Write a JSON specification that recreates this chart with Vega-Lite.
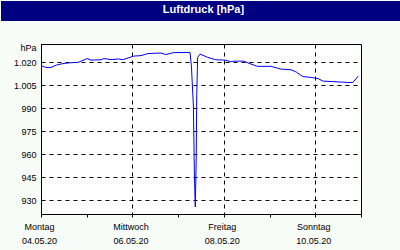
{
  "$schema": "https://vega.github.io/schema/vega-lite/v6.json",
  "background": "#f8fcf8",
  "padding": 0,
  "spacing": 20,
  "config": {"view": {"stroke": null}},
  "vconcat": [
    {
      "width": 360,
      "height": 20,
      "view": {"fill": "#000080", "stroke": null},
      "data": {"values": [{"label": "Luftdruck [hPa]", "v": 0}]},
      "mark": {"type": "text", "color": "white", "font": "Liberation Sans", "fontSize": 11, "fontWeight": "bold", "baseline": "middle", "dx": -17.5, "dy": -1.5},
      "encoding": {
        "text": {"field": "label"},
        "y": {
          "field": "v",
          "type": "quantitative",
          "scale": {"domain": [-1, 1], "nice": false, "zero": false},
          "axis": {
            "title": null,
            "values": [0.9, 0.8, 0.7, 0.6, 0.5, 0.4, 0.3, 0.2, 0.1, 0, -0.1, -0.2, -0.3, -0.4, -0.5, -0.6, -0.7, -0.8, -0.9],
            "labels": false,
            "ticks": true,
            "tickSize": 39,
            "tickWidth": 2,
            "tickCap": "square",
            "tickColor": "#000080",
            "translate": 0,
            "grid": false,
            "domain": false,
            "minExtent": 40,
            "maxExtent": 40
          }
        }
      }
    },
    {
      "width": 320,
      "height": 170,
      "view": {"fill": "white", "stroke": "black", "strokeWidth": 1},
      "data": {"values": [
        {"t": "2020-05-04T00:00", "p": 1018.0},
        {"t": "2020-05-04T02:30", "p": 1016.7},
        {"t": "2020-05-04T05:15", "p": 1016.7},
        {"t": "2020-05-04T08:00", "p": 1018.2},
        {"t": "2020-05-04T11:30", "p": 1019.2},
        {"t": "2020-05-04T14:45", "p": 1019.7},
        {"t": "2020-05-04T19:30", "p": 1020.0},
        {"t": "2020-05-04T21:00", "p": 1020.8},
        {"t": "2020-05-05T00:15", "p": 1022.5},
        {"t": "2020-05-05T02:15", "p": 1021.5},
        {"t": "2020-05-05T07:30", "p": 1021.7},
        {"t": "2020-05-05T09:00", "p": 1022.5},
        {"t": "2020-05-05T12:45", "p": 1021.8},
        {"t": "2020-05-05T16:30", "p": 1022.2},
        {"t": "2020-05-05T19:00", "p": 1021.8},
        {"t": "2020-05-05T22:15", "p": 1023.1},
        {"t": "2020-05-06T00:45", "p": 1024.1},
        {"t": "2020-05-06T04:30", "p": 1024.4},
        {"t": "2020-05-06T08:15", "p": 1025.8},
        {"t": "2020-05-06T15:00", "p": 1026.1},
        {"t": "2020-05-06T17:30", "p": 1025.1},
        {"t": "2020-05-06T21:45", "p": 1026.4},
        {"t": "2020-05-07T06:15", "p": 1026.4},
        {"t": "2020-05-07T07:00", "p": 1016.9},
        {"t": "2020-05-07T08:00", "p": 991.6},
        {"t": "2020-05-07T08:30", "p": 949.1},
        {"t": "2020-05-07T09:00", "p": 925.6},
        {"t": "2020-05-07T09:30", "p": 958.1},
        {"t": "2020-05-07T09:45", "p": 998.2},
        {"t": "2020-05-07T10:15", "p": 1023.3},
        {"t": "2020-05-07T11:30", "p": 1025.4},
        {"t": "2020-05-07T15:30", "p": 1023.3},
        {"t": "2020-05-07T19:45", "p": 1021.7},
        {"t": "2020-05-08T00:30", "p": 1021.5},
        {"t": "2020-05-08T03:45", "p": 1020.4},
        {"t": "2020-05-08T05:15", "p": 1020.8},
        {"t": "2020-05-08T10:30", "p": 1020.8},
        {"t": "2020-05-08T14:15", "p": 1018.9},
        {"t": "2020-05-08T17:45", "p": 1017.4},
        {"t": "2020-05-09T00:45", "p": 1017.4},
        {"t": "2020-05-09T06:00", "p": 1015.6},
        {"t": "2020-05-09T11:15", "p": 1015.2},
        {"t": "2020-05-09T14:00", "p": 1013.7},
        {"t": "2020-05-09T17:30", "p": 1010.7},
        {"t": "2020-05-09T21:45", "p": 1010.2},
        {"t": "2020-05-10T01:30", "p": 1009.4},
        {"t": "2020-05-10T04:00", "p": 1007.8},
        {"t": "2020-05-10T08:15", "p": 1007.5},
        {"t": "2020-05-10T18:45", "p": 1006.8},
        {"t": "2020-05-10T19:45", "p": 1006.9},
        {"t": "2020-05-10T22:30", "p": 1011.0}
      ]},
      "mark": {"type": "line", "color": "#0000ff", "strokeWidth": 1},
      "encoding": {
        "x": {
          "field": "t",
          "type": "temporal",
          "scale": {"domain": [{"year": 2020, "month": 5, "date": 4}, {"year": 2020, "month": 5, "date": 11}], "nice": false},
          "axis": {
            "title": null,
            "values": [
              {"year": 2020, "month": 5, "date": 4},
              {"year": 2020, "month": 5, "date": 5},
              {"year": 2020, "month": 5, "date": 6},
              {"year": 2020, "month": 5, "date": 7},
              {"year": 2020, "month": 5, "date": 8},
              {"year": 2020, "month": 5, "date": 9},
              {"year": 2020, "month": 5, "date": 10},
              {"year": 2020, "month": 5, "date": 11}
            ],
            "labelExpr": "date(datum.value) % 2 == 0 ? [['Sonntag','Montag','Dienstag','Mittwoch','Donnerstag','Freitag','Samstag'][day(datum.value)], timeFormat(datum.value, '%d.%m.%y')] : ''",
            "labelBaseline": "top",
            "labelLineHeight": 14.5,
            "labelPadding": 5,
            "labelOffset": -2,
            "labelFont": "Liberation Sans",
            "labelFontSize": 9,
            "labelColor": "black",
            "labelFlush": false,
            "labelOverlap": false,
            "tickSize": 3,
            "tickColor": "black",
            "domainColor": "black",
            "grid": true,
            "gridColor": "black",
            "gridDash": [4, 4],
            "gridOpacity": {"condition": {"test": "date(datum.value) % 2 == 0", "value": 1}, "value": 0},
            "minExtent": 40,
            "maxExtent": 40
          }
        },
        "y": {
          "field": "p",
          "type": "quantitative",
          "scale": {"domain": [921, 1032], "nice": false, "zero": false},
          "axis": {
            "values": [930, 945, 960, 975, 990, 1005, 1020],
            "labelExpr": "replace(format(datum.value, ','), ',', '.')",
            "title": "hPa",
            "titleAngle": 0,
            "titleX": -5,
            "titleY": 3,
            "titleAlign": "right",
            "titleBaseline": "middle",
            "titleFont": "Liberation Sans",
            "titleFontSize": 9,
            "titleFontWeight": "normal",
            "titleColor": "black",
            "ticks": false,
            "labelPadding": 5,
            "labelFont": "Liberation Sans",
            "labelFontSize": 9,
            "labelColor": "black",
            "domainColor": "black",
            "grid": true,
            "gridColor": "black",
            "gridDash": [4, 4],
            "minExtent": 40,
            "maxExtent": 40
          }
        }
      }
    }
  ]
}
